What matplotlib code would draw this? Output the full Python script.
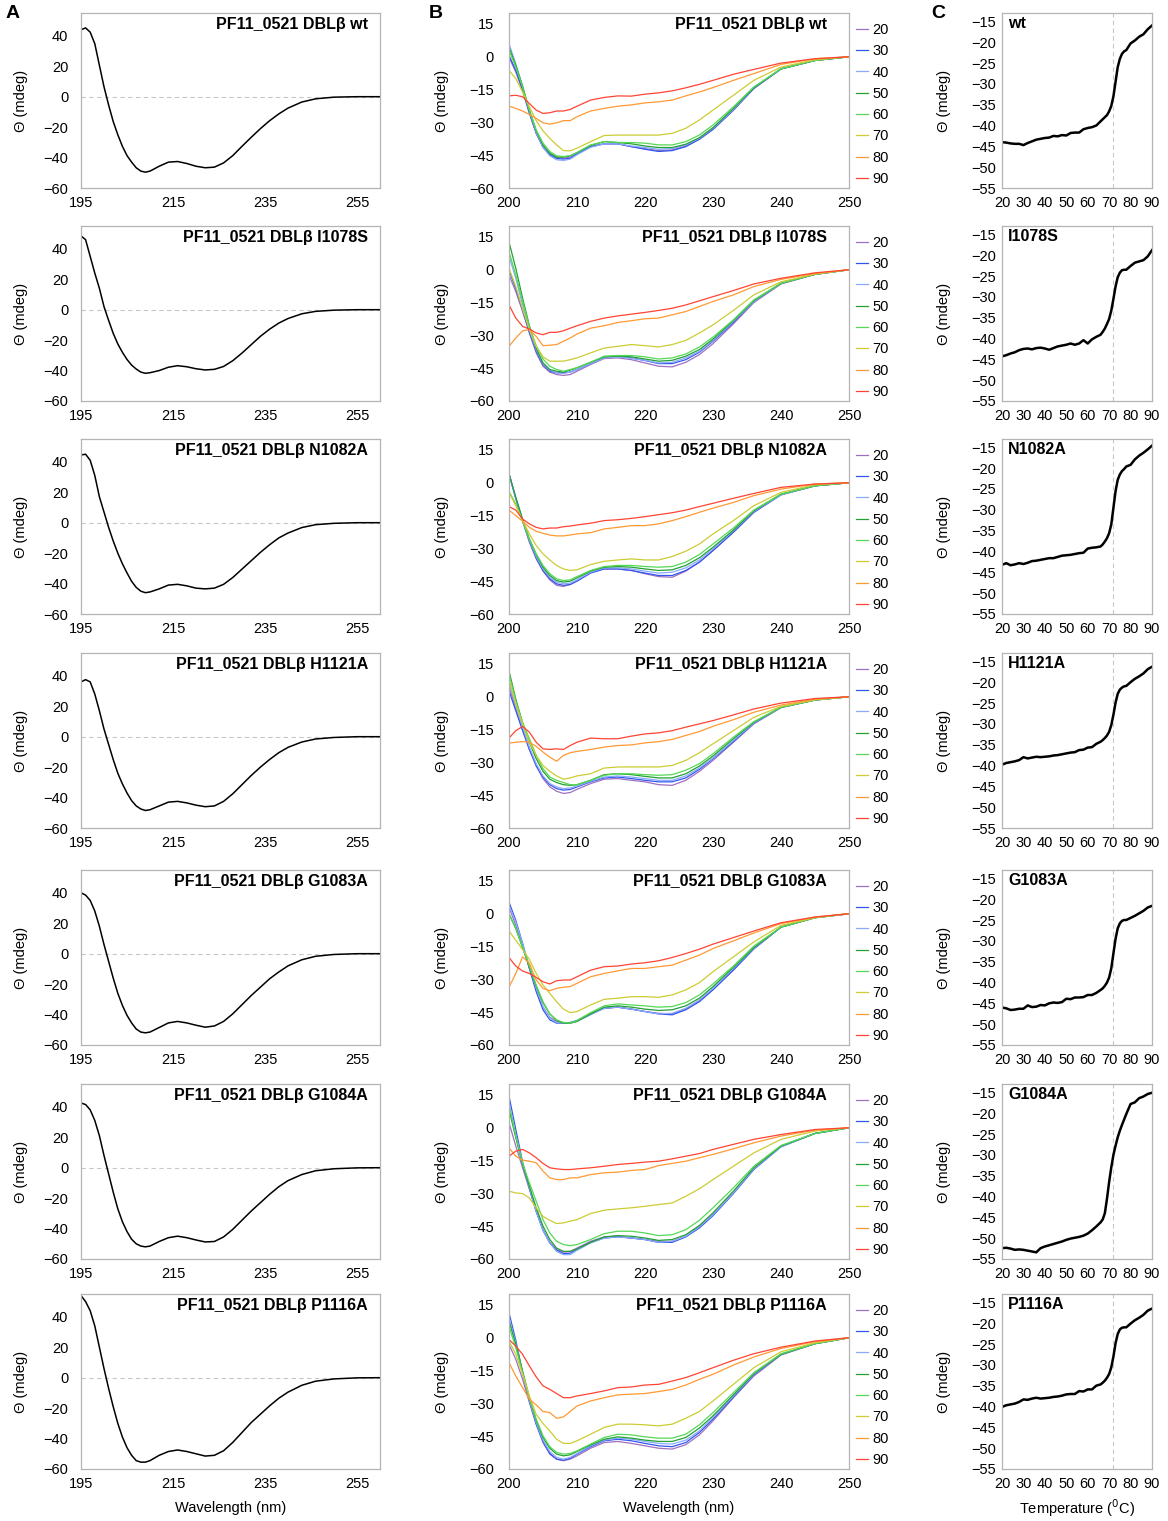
import matplotlib
matplotlib.use("Agg")
import matplotlib.pyplot as plt

plt.rcParams["font.family"] = ["Liberation Sans", "DejaVu Sans"]

# ---------------- data ----------------
names = ["wt", "I1078S", "N1082A", "H1121A", "G1083A", "G1084A", "P1116A"]
temps = ["20", "30", "40", "50", "60", "70", "80", "90"]
colors = ["#a070c0", "#3355ee", "#88aaff", "#22a033", "#55d855", "#cccc33", "#ff9933", "#ff4433"]

# A: CD spectra at 20 C
A_x = [195, 196, 197, 198, 199, 200, 201, 202, 203, 204, 205, 206, 207, 208, 209, 210,
       212, 214, 216, 218, 220, 222, 224, 226, 228, 230, 232, 234, 236, 238, 240, 243,
       246, 250, 255, 260]
A_wt = [44, 45.2, 42.4, 34.8, 20.6, 6.5, -5.4, -16.3, -25, -32.6, -38.7, -43, -46.7, -48.9, -49.6, -48.9,
        -45.7, -43, -42.6, -43.9, -45.7, -46.7, -46.3, -43.5, -38.7, -32.6, -26.7, -21, -15.8, -11.3, -7.5, -3.5,
        -1.4, -0.3, 0, 0]
A_I1078S = [48.5, 46, 35, 24, 14, 2, -7, -15.5, -22.5, -28, -32.7, -36.4, -39, -41, -41.8, -41.4,
            -40, -37.8, -36.8, -37.5, -38.8, -39.6, -39.2, -37.3, -33.5, -28.5, -23, -17.5, -12.8, -8.8, -5.8, -2.7,
            -1.1, -0.3, 0, 0]
A_N1082A = [44.5, 45, 41, 31, 17, 7, -3, -12, -20, -27, -33, -38.5, -42.5, -45, -46, -45.5,
            -43.5, -41, -40.5, -41.5, -43, -43.5, -43, -40.5, -36, -30.5, -25, -19.5, -14.5, -10, -6.8, -3.2,
            -1.3, -0.4, 0, 0]
A_H1121A = [36, 37.5, 36, 28, 17, 5, -5, -15, -24, -31, -37, -42, -45.5, -47.5, -48.5, -48,
            -45.5, -43, -42.5, -43.5, -45, -46, -45.5, -42.5, -37.5, -31.5, -25.5, -20, -15, -10.5, -7, -3.5,
            -1.5, -0.5, 0, 0]
A_G1083A = [40, 38.5, 35, 28, 18, 6, -5, -16, -26, -34, -40.5, -45.5, -49.5, -51.5, -52, -51.5,
            -48.5, -45.5, -44.5, -45.5, -47, -48.3, -47.5, -44.5, -39.5, -33.5, -27.5, -22, -16.5, -12, -8, -4,
            -1.7, -0.5, 0, 0]
A_G1084A = [42.5, 41.5, 38, 31, 21, 8, -4, -16, -27, -35.5, -42, -47, -50, -51.5, -52, -51.5,
            -48.5, -46, -45, -46, -47.5, -48.8, -48.5, -45.5, -40.5, -34.5, -28.5, -23, -17.5, -12.5, -8.5, -4.5,
            -2, -0.7, -0.1, 0]
A_P1116A = [54, 50, 44, 34, 20, 6, -7, -19, -30, -39, -46, -51, -54.5, -55.5, -55.5, -54.5,
            -51, -48.5, -47.5, -48.5, -50, -51.5, -51, -48, -42.5, -36, -29.5, -24, -18.5, -13.5, -9.5, -5,
            -2.3, -0.8, -0.1, 0]

# B: spectra at 20..90 C (one row per temperature)
B_x = [200, 201, 202, 203, 204, 205, 206, 207, 208, 209, 210, 212, 214, 216, 218, 220,
       222, 224, 226, 228, 230, 233, 236, 240, 245, 250]
B_wt = [
    [-0.2, -7, -15.6, -25.9, -35, -41.1, -44.4, -45.9, -46.4, -45.9, -44.1, -41.1, -39.8, -39.8, -41.1, -42, -42.9, -42.6, -40.8, -37.7, -33.2, -24.4, -14.5, -5.6, -1.7, 0],
    [0.6, -6.2, -15, -25.6, -35, -41.4, -44.8, -46.5, -46.8, -46.4, -44.4, -41.1, -39.8, -39.8, -41.1, -42.3, -43.3, -42.9, -41.1, -37.7, -33.2, -24.4, -14.5, -5.6, -1.7, 0],
    [5.9, -3.2, -13.5, -24.8, -34.7, -41.4, -45.3, -47.1, -47.4, -46.8, -44.8, -41.4, -39.8, -39.8, -40.8, -41.5, -42.3, -42, -40.3, -37.3, -32.7, -24.1, -14.2, -5.5, -1.7, 0],
    [4.4, -3.9, -13.5, -24.4, -33.8, -40.3, -44.1, -45.9, -45.9, -45.3, -43.8, -40.6, -38.8, -39.2, -39.8, -40.8, -41.5, -41.5, -40, -37, -32.4, -23.6, -14.1, -5.5, -1.7, 0],
    [2.9, -4.7, -13.8, -24.4, -33.5, -39.5, -43.3, -45.3, -45.6, -45.3, -43.8, -40.3, -38.8, -39.2, -39.2, -39.5, -40.3, -40.3, -38.8, -35.8, -31.2, -22.9, -13.8, -5.5, -1.7, 0],
    [-6.2, -10, -16.1, -22.9, -29.2, -33.9, -37.3, -40.3, -42.9, -43, -41.8, -38.8, -36, -35.8, -35.8, -35.8, -35.8, -35, -32.7, -28.9, -24.4, -17.6, -10.8, -4.7, -1.4, 0],
    [-22.6, -23.6, -24.8, -26.4, -28.2, -30.2, -30.8, -30.2, -29.2, -29.2, -27.4, -24.8, -23.6, -22.6, -22, -21.1, -20.6, -19.8, -17.9, -16.1, -14.1, -10.8, -7.7, -3.5, -0.9, 0],
    [-17.9, -17.6, -18.3, -21.4, -24.4, -25.9, -25.6, -24.8, -24.8, -24.1, -22.6, -19.8, -18.6, -17.9, -18, -17.1, -16.5, -15.6, -14.2, -12.6, -10.8, -8, -5.8, -2.9, -0.9, 0],
]
B_I1078S = [
    [-2.4, -10, -19.1, -28.9, -38, -44.1, -46.8, -47.9, -48.3, -47.9, -46.4, -43.3, -40.6, -40.3, -41.1, -42.6, -44.1, -44.4, -42.3, -38.8, -33.8, -24.7, -15, -6.5, -2.1, 0],
    [-0.2, -8.5, -18.3, -28.6, -37.3, -43.3, -46.4, -47.1, -47.1, -46.8, -45.6, -42.9, -39.8, -39.5, -40.3, -41.5, -42.9, -42.9, -41.1, -37.7, -32.7, -24.1, -14.5, -6.2, -2.1, 0],
    [6.2, -3.9, -16.1, -27.4, -36.5, -42.9, -45.9, -47.1, -47.4, -46.8, -45.6, -42.9, -40.3, -39.8, -40.5, -41.4, -42.6, -42.3, -40.3, -37.3, -32.3, -23.6, -14.5, -6.2, -2.1, 0],
    [12.7, 0.6, -13, -25.6, -35.8, -42.6, -45.6, -46.4, -46.8, -45.9, -44.8, -42.3, -39.8, -39.5, -39.8, -40.8, -41.8, -41.4, -39.5, -36.5, -31.7, -23.2, -14.1, -6.2, -2.1, 0],
    [8.2, -2.4, -14.5, -25.9, -34.7, -40.8, -44.1, -45.6, -46.4, -45.6, -44.8, -42.3, -39.5, -39.2, -39.2, -39.8, -40.8, -40.3, -38.5, -35.3, -30.8, -22.9, -13.8, -6.2, -2, 0],
    [0.6, -7.7, -18, -27.4, -35, -39.8, -41.8, -41.8, -41.8, -41.1, -40.3, -38, -35.8, -35, -34.2, -34.7, -35.3, -34.2, -32.3, -28.9, -25.2, -18.6, -11.5, -5.5, -2, 0],
    [-35, -31.2, -27.9, -27.4, -30.5, -34.7, -34.5, -34.2, -32.7, -31.2, -29.4, -26.7, -25.6, -24.1, -23.3, -22.4, -22.1, -20.6, -19.1, -16.8, -14.5, -11.5, -7.7, -4.4, -1.7, 0],
    [-16.1, -22.1, -25.9, -27.1, -28.9, -29.7, -28.6, -28.6, -27.9, -26.7, -25.6, -23.6, -22.1, -21.1, -20.3, -19.5, -18.6, -17.6, -16.1, -14.2, -12.3, -9.5, -6.5, -3.9, -1.4, 0],
]
B_N1082A = [
    [4, -7.4, -17.6, -27.2, -34.8, -40.4, -44.4, -46.9, -47.4, -46.5, -44.7, -40.9, -39.4, -39.4, -40.1, -41.6, -42.9, -43.2, -40.4, -36.3, -31, -22.6, -13.5, -5.5, -1.4, 0],
    [4.3, -7, -17.3, -26.7, -34.3, -40.1, -43.9, -46.2, -46.9, -46.5, -45, -41.3, -39.4, -39.4, -40.1, -41.3, -42.4, -42.4, -40.1, -36.3, -31, -22.6, -13.5, -5.5, -1.4, 0],
    [4, -7, -17, -26.4, -33.7, -39.4, -43.2, -45.4, -46.2, -45.9, -44.4, -40.9, -38.9, -38.9, -39.4, -40.4, -41.3, -40.9, -38.9, -35.3, -30.2, -21.9, -13.1, -5.5, -1.4, 0],
    [4, -6.7, -16.6, -25.7, -32.8, -38.6, -42.4, -44.7, -45.4, -45, -43.5, -40.4, -38.6, -38.3, -38.6, -39.4, -40.1, -39.8, -37.8, -34.3, -29.5, -21.6, -12.8, -5.2, -1.4, 0],
    [-4, -9.7, -17.6, -25.7, -32.5, -37.8, -41.6, -43.9, -44.7, -44.4, -42.9, -40.1, -38.3, -37.8, -37.8, -38.3, -38.6, -38.3, -36.3, -32.8, -28, -20.7, -12.5, -5.2, -1.4, 0],
    [-4.4, -10.5, -17.3, -23.4, -28.7, -32.5, -35.3, -37.8, -39.4, -40.1, -39.8, -37.4, -35.9, -35.3, -34.8, -35.3, -35.3, -33.7, -31.3, -28, -23.4, -17.3, -10.5, -4.4, -0.9, 0],
    [-12.5, -15, -17.6, -20.4, -22.2, -23.1, -23.9, -24.3, -24.3, -23.9, -23.4, -22.8, -21.1, -20.4, -19.6, -19.6, -18.8, -17.3, -15.5, -13.5, -11.6, -9, -5.9, -2.9, -0.6, 0],
    [-10.9, -12.5, -16.6, -18.8, -20.4, -21.1, -20.7, -20.7, -20.1, -19.8, -19.3, -18.5, -17.3, -16.9, -16.3, -15.5, -14.6, -13.7, -12.5, -10.9, -9.4, -7.1, -4.9, -2.1, -0.6, 0],
]
B_H1121A = [
    [5, -5.3, -15, -24.1, -31.7, -37.4, -41.2, -43.2, -44.2, -43.8, -42.3, -39.7, -37.7, -37.4, -38.2, -38.9, -40.2, -40.5, -38.2, -34.1, -29.1, -20.8, -12.4, -5, -1.5, 0],
    [2.7, -6.4, -15.5, -24.1, -31.4, -36.7, -40.2, -42, -42.7, -42.4, -41.2, -38.9, -37.1, -36.7, -37.4, -38.2, -38.9, -38.9, -37.1, -33.2, -28.3, -20.5, -12.1, -4.8, -1.5, 0],
    [6.5, -4.1, -13.9, -23, -30.6, -36.2, -39.7, -41.2, -42, -41.7, -40.8, -38.6, -36.7, -36.2, -36.7, -37.4, -38.2, -38.2, -36.2, -32.6, -28, -20, -12, -4.8, -1.5, 0],
    [11.8, -1.1, -12, -20.8, -28.3, -34.1, -37.7, -39.2, -40.2, -40.5, -40.2, -38.2, -35.6, -35.2, -35.6, -36.4, -37.1, -37.1, -35.2, -31.7, -27.1, -19.2, -11.7, -4.8, -1.5, 0],
    [10.3, -1.8, -11.7, -19.2, -26.8, -32.9, -36.7, -38.2, -39.2, -40.2, -40.2, -38.2, -35.9, -35.2, -35.2, -35.6, -35.9, -35.6, -33.6, -30.6, -26.1, -18.5, -11.4, -4.8, -1.5, 0],
    [8, -3.3, -12.4, -20.8, -26.8, -31.4, -34.1, -36.2, -37.7, -37.1, -36.2, -35.2, -32.6, -32.1, -32.1, -32.1, -32.1, -31.4, -29.1, -25.6, -21.5, -15.5, -9.4, -4.4, -1.4, 0],
    [-21.2, -20.8, -20.5, -20.8, -22.7, -25.3, -27.6, -29.5, -26.8, -25.6, -25, -24.1, -23, -22.3, -22, -21.1, -20.5, -19.5, -17.7, -15.9, -13.5, -10.5, -7.1, -3.8, -1.1, 0],
    [-18.9, -15.5, -13.6, -16.2, -20.8, -23.8, -24.1, -23.8, -24.1, -22.3, -20.8, -18.9, -19.2, -19.2, -18, -17, -16.5, -15.5, -13.9, -12.4, -10.9, -8.3, -5.6, -2.9, -0.8, 0],
]
B_G1083A = [
    [3, -5.3, -14.8, -25, -34.8, -42.7, -47.3, -49.2, -50, -50, -49.1, -45.8, -43.2, -42.7, -43.6, -44.7, -45.5, -45.8, -43.6, -39.7, -34.5, -25.5, -15.9, -6.1, -1.8, 0],
    [5.3, -3, -13.6, -25, -35.6, -43.9, -48.5, -50, -50, -49.7, -48.8, -45.8, -43.2, -42.7, -43.6, -44.7, -45.8, -46.2, -43.9, -40.2, -34.8, -25.8, -16.1, -6.1, -1.8, 0],
    [3.8, -3.8, -13.6, -24.2, -34.1, -42.4, -47.7, -49.7, -50, -50, -49.2, -46.2, -43.2, -42.7, -43.6, -44.7, -45.8, -45.5, -43.2, -39.4, -34.1, -25, -15.8, -6.1, -1.8, 0],
    [0, -6.8, -15.5, -24.5, -33, -40.6, -45.8, -48.8, -50, -50, -49.2, -45.8, -42.7, -42.1, -42.7, -43.6, -44.2, -43.9, -42.1, -38.6, -33.3, -24.5, -15.5, -6.1, -1.8, 0],
    [0, -6.8, -15.2, -23.9, -32.6, -40.2, -45.8, -48.5, -49.7, -50, -48.8, -45.2, -42.1, -41.2, -41.7, -42.1, -42.7, -42.4, -40.6, -37.1, -32.1, -23.9, -14.8, -6.1, -1.8, 0],
    [-7.9, -12.1, -16.4, -20.9, -27.3, -32.6, -36.4, -40.2, -43.6, -45.2, -44.7, -41.7, -39.1, -38.6, -37.9, -37.9, -38.2, -37.1, -34.8, -31.5, -26.5, -19.7, -12.9, -5.3, -1.8, 0],
    [-33.6, -27.3, -19.7, -22.7, -30.3, -34.1, -35.2, -34.1, -33.6, -33.3, -31.8, -28.8, -27.3, -26.1, -25, -25, -24.2, -23.5, -21.2, -18.9, -15.9, -12.4, -8.8, -4.5, -1.5, 0],
    [-20, -23.9, -26.2, -27.3, -29.1, -31.1, -32.1, -30.6, -30.3, -30.3, -28.8, -25.8, -24.2, -23.9, -23, -22.4, -21.5, -20, -18.2, -16.2, -13.9, -10.9, -7.9, -4.1, -1.5, 0],
]
B_G1084A = [
    [2.3, -8.4, -18.3, -28.2, -38.2, -46.6, -52.4, -55.7, -56.9, -56.5, -55, -51.9, -49.9, -49.6, -50.4, -51.1, -51.9, -51.9, -49.6, -45.3, -39.7, -29.8, -18.8, -8.4, -2.6, 0],
    [14.5, -0.8, -15.7, -27.5, -38.2, -46.9, -52.7, -56, -57.6, -57.3, -55.7, -52.4, -50.4, -49.9, -50.4, -51.1, -52.4, -52.4, -49.9, -45.8, -40.2, -30.1, -19.1, -8.7, -2.6, 0],
    [11.5, -3.1, -16.3, -27.5, -38.2, -46.9, -52.7, -56.5, -58, -58, -56, -52.7, -50.4, -49.9, -50.4, -51.1, -52.4, -51.9, -49.6, -45.3, -39.7, -29.8, -18.8, -8.7, -2.6, 0],
    [8.4, -4.6, -16.8, -26.7, -36.6, -45, -51.1, -55, -56.5, -56.5, -55.4, -52.4, -49.9, -49.3, -49.6, -50.4, -51.5, -51.1, -48.9, -44.7, -38.9, -29, -18.3, -8.4, -2.6, 0],
    [10.2, -3.8, -16.3, -25.2, -33.6, -42, -48.1, -51.9, -53.4, -53.9, -53.4, -51.1, -48.4, -47.3, -47.3, -48.1, -49.3, -48.9, -46.6, -42.3, -36.6, -27.5, -17.6, -8.1, -2.6, 0],
    [-29, -29.8, -30.1, -32.1, -36.6, -40.5, -42.3, -43.8, -43.5, -42.7, -42, -39.2, -37.7, -37.1, -36.6, -35.9, -35.1, -34.4, -31.3, -27.9, -23.7, -17.6, -11.5, -5.3, -1.5, 0],
    [-9.2, -13, -14.8, -15.3, -16, -19.8, -22.9, -23.7, -23.7, -22.9, -22.9, -21.4, -20.6, -20.3, -19.5, -19.1, -17.3, -16.3, -15.3, -13.7, -12.2, -9.6, -6.9, -3.8, -1.1, 0],
    [-13, -10.7, -9.9, -11.5, -13.7, -16.3, -18.3, -18.8, -19.1, -19.1, -18.8, -18.3, -17.6, -16.8, -16.3, -15.7, -15.3, -14.2, -13, -11.8, -9.9, -7.6, -5.3, -3.1, -0.8, 0],
]
B_P1116A = [
    [-3, -9.9, -19, -29.6, -39.5, -47.9, -53.2, -55.5, -56.2, -55.5, -54, -50.5, -47.9, -47.4, -48.3, -49.4, -50.5, -50.9, -48.9, -44.4, -38, -27.4, -17.5, -7.9, -2.7, 0],
    [11.4, -1.2, -16, -28.9, -39.5, -47.4, -52.9, -55.5, -56, -55.1, -53.2, -49.8, -47.1, -46.4, -47.1, -48.3, -49.4, -49.8, -47.9, -43.3, -37.2, -27.1, -17, -7.6, -2.7, 0],
    [9.1, -2.3, -16, -28.6, -38.8, -46.8, -52, -54.7, -55.5, -54.7, -52.9, -49.4, -46.8, -45.9, -46.4, -47.4, -48.3, -48.6, -46.8, -42.6, -36.5, -26.6, -16.7, -7.6, -2.7, 0],
    [7.6, -3, -15.2, -27.4, -37.7, -45.6, -50.5, -53.2, -54, -53.5, -52, -49, -46.4, -45.3, -45.9, -46.8, -47.4, -47.4, -45.6, -41.3, -35.7, -26.1, -16.4, -7.6, -2.7, 0],
    [5.3, -4.6, -16, -27.4, -37.2, -44.8, -49.8, -52.4, -53.2, -52.9, -51.7, -48.6, -45.6, -44.1, -44.4, -45.3, -45.9, -45.9, -44.1, -39.8, -34.2, -25.1, -16, -7.3, -2.7, 0],
    [-1.5, -7.6, -16.7, -26.6, -35, -39.2, -42.6, -46.4, -48.3, -48.3, -47.1, -44.1, -41, -39.5, -39.5, -39.8, -40.3, -39.5, -36.8, -33.7, -28.9, -21.3, -13.7, -6.4, -2.3, 0],
    [-11.4, -17.5, -22.8, -28.1, -30.7, -33.7, -34.2, -36.8, -36.2, -33.7, -31.2, -28.9, -27.4, -26.1, -25.8, -25.5, -24.6, -23.6, -21.6, -19, -16.7, -12.5, -8.8, -4.9, -1.8, 0],
    [-0.8, -3.8, -7.6, -12.9, -17.9, -22, -23.6, -25.5, -27.4, -27.4, -26.6, -25.5, -24.3, -22.8, -22.5, -21.6, -21.3, -19.8, -18.2, -16, -13.7, -10.3, -7.3, -4.3, -1.5, 0],
]

# C: thermal melts at 222 nm
C_x = [20, 22, 24, 26, 28, 30, 32, 34, 36, 38, 40, 42, 44, 46, 48, 50, 52, 54, 56, 58, 60,
       62, 64, 66, 67, 68, 69, 70, 71, 72, 73, 74, 75, 76, 77, 78, 80, 82, 84, 86, 88, 90]
C_wt = [-44.0, -44.1, -44.3, -44.4, -44.4, -44.7, -44.2, -43.8, -43.4, -43.2, -43.0, -42.9, -42.5, -42.6,
        -42.3, -42.4, -41.8, -41.7, -41.7, -40.9, -40.6, -40.4, -40.0, -39.0, -38.5, -38.0, -37.5, -36.6,
        -35.3, -33.0, -29.5, -26.0, -24.0, -22.8, -22.2, -21.9, -20.3, -19.6, -18.7, -18.1, -16.9, -16.0]
C_I1078S = [-44.3, -44.0, -43.6, -43.3, -42.8, -42.5, -42.4, -42.6, -42.3, -42.2, -42.4, -42.7, -42.3, -41.9,
            -41.7, -41.5, -41.2, -41.5, -41.2, -40.4, -41.2, -40.2, -39.6, -39.1, -38.4, -37.6, -36.5, -35.3,
            -33.3, -30.5, -27.5, -25.3, -24.2, -23.6, -23.5, -23.5, -22.6, -21.8, -21.5, -21.2, -20.3, -18.8]
C_N1082A = [-43.2, -42.8, -43.3, -43.1, -42.8, -43.0, -42.7, -42.3, -42.2, -42.0, -41.8, -41.6, -41.6, -41.3,
            -41.0, -40.9, -40.8, -40.6, -40.4, -40.3, -39.3, -39.1, -39.0, -38.8, -38.3, -37.6, -36.8, -35.6,
            -33.5, -29.5, -25.5, -22.8, -21.5, -20.7, -20.2, -19.6, -19.2, -17.9, -17.0, -16.3, -15.5, -14.6]
C_H1121A = [-39.8, -39.4, -39.2, -39.0, -38.7, -38.0, -38.3, -38.1, -37.9, -38.0, -37.9, -37.8, -37.6, -37.5,
            -37.3, -37.1, -36.9, -36.8, -36.3, -36.2, -35.7, -35.6, -34.8, -34.3, -33.9, -33.4, -32.8, -31.9,
            -30.3, -27.8, -24.9, -22.8, -21.8, -21.3, -21.0, -20.9, -20.0, -19.2, -18.6, -17.9, -16.9, -16.3]
C_G1083A = [-46.0, -46.2, -46.6, -46.5, -46.3, -46.3, -45.5, -45.9, -45.8, -45.4, -45.5, -45.0, -44.8, -44.9,
            -44.7, -43.9, -44.0, -43.6, -43.6, -43.5, -43.0, -43.0, -42.5, -41.8, -41.4, -40.8, -40.0, -38.8,
            -36.6, -33.0, -29.5, -27.0, -25.8, -25.2, -25.0, -25.0, -24.5, -24.0, -23.4, -22.8, -22.0, -21.6]
C_G1084A = [-52.4, -52.3, -52.5, -52.8, -52.7, -52.8, -53.0, -53.2, -53.4, -52.4, -52.0, -51.7, -51.4, -51.1,
            -50.8, -50.4, -50.1, -49.9, -49.7, -49.4, -48.9, -48.1, -47.2, -46.2, -45.5, -44.0, -40.5, -36.5,
            -33.0, -30.0, -27.8, -25.8, -24.2, -22.8, -21.5, -20.2, -17.8, -17.4, -16.4, -16.0, -15.4, -15.1]
C_P1116A = [-40.1, -39.7, -39.5, -39.3, -38.9, -38.3, -38.4, -38.1, -37.9, -38.1, -38.0, -37.9, -37.7, -37.6,
            -37.4, -37.1, -37.0, -37.0, -36.3, -36.4, -35.9, -35.9, -35.0, -34.7, -34.3, -33.8, -33.1, -32.2,
            -30.6, -28.0, -24.8, -22.6, -21.5, -21.1, -21.0, -21.0, -20.1, -19.3, -18.7, -18.0, -17.0, -16.5]

A_rows = [A_wt, A_I1078S, A_N1082A, A_H1121A, A_G1083A, A_G1084A, A_P1116A]
B_rows = [B_wt, B_I1078S, B_N1082A, B_H1121A, B_G1083A, B_G1084A, B_P1116A]
C_rows = [C_wt, C_I1078S, C_N1082A, C_H1121A, C_G1083A, C_G1084A, C_P1116A]

# ---------------- layout ----------------
W, H = 1168, 1521
fig = plt.figure(figsize=(W / 100, H / 100), dpi=100)
bottoms = [188, 401, 614, 828, 1045, 1259, 1469]
row_h = 175
spine_col = "#b4b4b4"
fs = 10.5


def add_ax(left, right, bottom):
    return fig.add_axes([left / W, 1 - bottom / H, (right - left) / W, row_h / H])


def style(ax, ypad):
    for s in ax.spines.values():
        s.set_color(spine_col)
        s.set_linewidth(0.9)
    ax.tick_params(axis="both", length=0, labelsize=fs)
    ax.tick_params(axis="y", pad=ypad)
    ax.tick_params(axis="x", pad=6)


for i, name in enumerate(names):
    b = bottoms[i]
    full = "PF11_0521 DBL\u03b2 " + name

    # panel A
    ax = add_ax(81, 380, b)
    ax.axhline(0, color="#c8c8c8", lw=0.8, ls=(0, (4, 3)))
    ax.plot(A_x, A_rows[i], color="black", lw=1.1)
    ax.set_xlim(195, 260)
    ax.set_ylim(-60, 55)
    ax.set_xticks([195, 215, 235, 255])
    ax.set_yticks([-60, -40, -20, 0, 20, 40])
    style(ax, 9)
    ax.set_ylabel("\u0398 (mdeg)", fontsize=fs)
    ax.yaxis.set_label_coords(-0.177, 0.5)
    ax.text(0.96, 0.935, full, transform=ax.transAxes, ha="right", va="center",
            fontsize=11.5, fontweight="bold")
    if i == 6:
        ax.set_xlabel("Wavelength (nm)", fontsize=fs, labelpad=7)

    # panel B
    ax = add_ax(509, 849, b)
    for j, t in enumerate(temps):
        ax.plot(B_x, B_rows[i][j], color=colors[j], lw=0.9, label=t)
    ax.set_xlim(200, 250)
    ax.set_ylim(-60, 20)
    ax.set_xticks(range(200, 251, 10))
    ax.set_yticks(range(-60, 16, 15))
    style(ax, 11)
    ax.set_ylabel("\u0398 (mdeg)", fontsize=fs)
    ax.yaxis.set_label_coords(-0.176, 0.5)
    ax.text(0.935, 0.935, full, transform=ax.transAxes, ha="right", va="center",
            fontsize=11.5, fontweight="bold")
    ax.legend(loc="upper left", bbox_to_anchor=(1.0, 0.985), frameon=False, fontsize=fs,
              handlelength=0.8, handletextpad=0.3, labelspacing=0.5, borderaxespad=0.3,
              borderpad=0.2)
    if i == 6:
        ax.set_xlabel("Wavelength (nm)", fontsize=fs, labelpad=7)

    # panel C
    ax = add_ax(1002, 1152, b)
    ax.axvline(72, color="#c8c8c8", lw=0.8, ls=(0, (4, 3)))
    ax.plot(C_x, C_rows[i], color="black", lw=1.8)
    ax.set_xlim(20, 90)
    ax.set_ylim(-55, -13)
    ax.set_xticks(range(20, 91, 10))
    ax.set_yticks(range(-55, -14, 5))
    style(ax, 4)
    ax.set_ylabel("\u0398 (mdeg)", fontsize=fs)
    ax.yaxis.set_label_coords(-0.34, 0.5)
    ax.text(0.04, 0.94, name, transform=ax.transAxes, ha="left", va="center",
            fontsize=11.5, fontweight="bold")
    if i == 6:
        ax.set_xlabel("Temperature ($^{0}$C)", fontsize=fs, labelpad=4)

for letter, x in [("A", 13), ("B", 436), ("C", 938)]:
    fig.text(x / W, 1 - 14 / H, letter, fontsize=14, fontweight="bold", ha="center", va="center")

fig.savefig("out.png", dpi=100)
